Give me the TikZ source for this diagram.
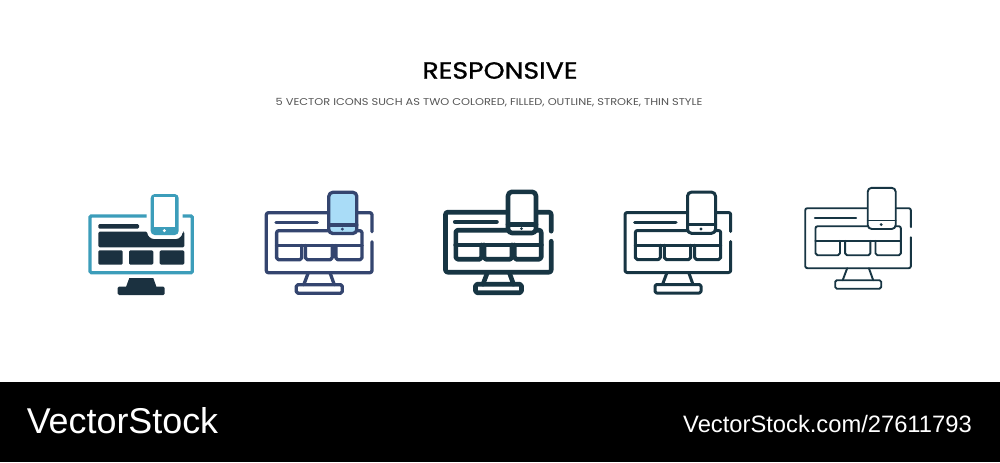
\documentclass[tikz,border=0pt]{standalone}
\usepackage{fontspec}
\setmainfont{Poppins}
\newfontfamily\footfont{Liberation Sans}
\newfontfamily\titlefont[FakeBold=1.1,FakeStretch=1.14]{Poppins}
\newfontfamily\subfont[FakeStretch=1.155]{Poppins}
\usetikzlibrary{calc}
\definecolor{ink}{HTML}{1B3140}
\definecolor{teal}{HTML}{3C9DBA}
\definecolor{navy}{HTML}{34456F}
\definecolor{sky}{HTML}{A9DCF7}
\definecolor{deep}{HTML}{173543}
\definecolor{subgray}{HTML}{555555}
\tikzset{
  px/.style={x=0.75pt,y=-0.75pt},
  ln/.style={line join=round,line cap=round},
  titletext/.style={inner sep=0pt,anchor=center,font=\titlefont\fontsize{17.6}{20}\selectfont,text=black},
  subtext/.style={inner sep=0pt,anchor=center,font=\subfont\fontsize{7.4}{9}\selectfont,text=subgray},
  footleft/.style={inner sep=0pt,anchor=base west,font=\footfont\fontsize{26.9}{30}\selectfont,text=white},
  footright/.style={inner sep=0pt,anchor=base east,font=\footfont\fontsize{17.8}{20}\selectfont,text=white},
  pics/outline/.style n args={3}{code={
    \pgfmathsetmacro{\gapw}{max(0.3,(7-#1)/2)}
    \pgfmathsetmacro{\aR}{37.3-\gapw}
    \pgfmathsetmacro{\bL}{37.3+\gapw}
    \pgfmathsetmacro{\bR}{67.7-\gapw}
    \pgfmathsetmacro{\cL}{67.7+\gapw}
    \begin{scope}[draw=#2,line width=#1*0.75pt,ln]
      % monitor
      \draw[rounded corners=1.6pt] (62,0) -- (0,0) -- (0,60) -- (105.7,60) -- (105.7,29);
      \draw[rounded corners=1.6pt] (90.5,0) -- (105.7,0) -- (105.7,19);
      % stand
      \draw (42,60) -- (37.5,72);
      \draw (63.7,60) -- (68,72);
      \draw[rounded corners=1.2pt] (30,72) rectangle (76,80.5);
      % text line
      \draw (9.7,9.7) -- (51,9.7);
      % panel
      \draw[rounded corners=1.6pt] (10.3,32.7) -- (10.3,18) -- (95.7,18) -- (95.7,32.7);
      \draw (10.3,32.7) -- (95.7,32.7);
      \draw[rounded corners=1.4pt] (10.3,32.7) -- (10.3,47) -- (\aR,47) -- (\aR,32.7);
      \draw[rounded corners=1.4pt] (\bL,32.7) -- (\bL,47) -- (\bR,47) -- (\bR,32.7);
      \draw[rounded corners=1.4pt] (\cL,32.7) -- (\cL,47) -- (95.7,47) -- (95.7,32.7);
      % phone
      \draw[fill=#3,rounded corners=3pt] (62.5,-20.4) rectangle (90.5,20.8);
      \draw (62.5,12.3) -- (90.5,12.3);
      \fill[#2] (76,16.4) circle[radius=1.6];
    \end{scope}
  }},
}
\begin{document}
\begin{tikzpicture}[px]
\useasboundingbox (0,0) rectangle (1000,462);
\fill[white] (0,0) rectangle (1000,382);
\fill[black] (0,382) rectangle (1000,462);
\node[titletext] (title) at (500,70.5) {RESPONSIVE};
\node[subtext] (sub) at (489,102.5) {5 VECTOR ICONS SUCH AS TWO COLORED, FILLED, OUTLINE, STROKE, THIN STYLE};
% icon 1
\draw[teal,line width=2.5pt,rounded corners=1pt] (146.7,216) -- (90,216) -- (90,272.7) -- (192.3,272.7) -- (192.3,216) -- (182.7,216);
\fill[ink,rounded corners=1pt] (98.3,224) rectangle (139,228.7);
\fill[ink,rounded corners=1pt] (98.3,231.7) -- (147.3,231.7) to[out=-90,in=180] (155,239) -- (175,239) to[out=0,in=-90] (182.5,231.7) -- (184.3,231.7) -- (184.3,247.3) -- (98.3,247.3) -- cycle;
\fill[ink,rounded corners=1pt] (98.3,250.3) rectangle (122.7,264.7);
\fill[ink,rounded corners=1pt] (129,250.3) rectangle (153.3,264.7);
\fill[ink,rounded corners=1pt] (159.7,250.3) rectangle (184.3,264.7);
\fill[ink] (129.3,278) -- (153.3,278) -- (156.5,287) -- (126,287) -- cycle;
\fill[ink,rounded corners=1pt] (117.7,286.7) rectangle (164.7,295);
\fill[teal,rounded corners=3pt] (150.7,194) rectangle (178.7,235);
\fill[white] (154.3,197.3) rectangle (175.1,226.7);
\fill[white] (164.3,230.6) circle[radius=1.6];
% outline icons
\pic (iconb) at (266.3,212.7) {outline={3.3}{navy}{sky}};
\pic (iconc) at (445.5,212.2) {outline={4.6}{deep}{white}};
\pic (icond) at (625,212.5) {outline={3.0}{deep}{white}};
\pic (icone) at (805.2,208.2) {outline={1.9}{deep}{white}};
% footer
\node[footleft] (brand) at (26.5,433) {VectorStock};
\node[footright] (url) at (972,432) {VectorStock.com/27611793};
\end{tikzpicture}
\end{document}
